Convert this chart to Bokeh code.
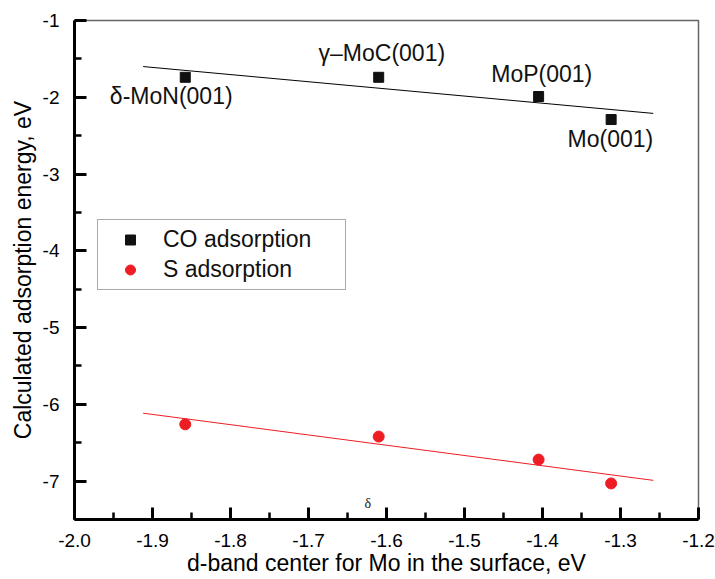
from bokeh.plotting import figure
from bokeh.models import (ColumnDataSource, FixedTicker, PrintfTickFormatter,
                          Range1d, Legend, LegendItem)
from bokeh.core.properties import value
from bokeh.embed import file_html
from bokeh.resources import INLINE

# ---- data ----
d_band = [-1.858, -1.610, -1.405, -1.312]
co_energy = [-1.74, -1.74, -1.99, -2.29]
s_energy = [-6.26, -6.42, -6.72, -7.03]

surface_labels = ["δ-MoN(001)", "γ–MoC(001)", "MoP(001)", "Mo(001)"]
label_x = [-1.876, -1.606, -1.401, -1.313]
label_y = [-1.977, -1.417, -1.703, -2.55]

fit_x = [-1.912, -1.258]
co_fit_y = [-1.60, -2.21]
s_fit_y = [-6.115, -6.99]

stray_text = ["δ"]
stray_x = [-1.624]
stray_y = [-7.29]

x_ticks = [-2.0, -1.9, -1.8, -1.7, -1.6, -1.5, -1.4, -1.3, -1.2]
x_minor = [-1.95, -1.85, -1.75, -1.65, -1.55, -1.45, -1.35, -1.25]
y_ticks = [-1, -2, -3, -4, -5, -6, -7]
y_minor = [-1.5, -2.5, -3.5, -4.5, -5.5, -6.5, -7.5]

FONT = "Liberation Sans"
RED = "#ee1d23"

p = figure(width=715, height=579, output_backend="svg", toolbar_location=None,
           x_range=Range1d(-2.0, -1.2), y_range=Range1d(-7.5, -1.0),
           min_border_left=74, min_border_right=17, min_border_top=20,
           min_border_bottom=60)
p.xgrid.visible = False
p.ygrid.visible = False
p.outline_line_color = "#666666"
p.outline_line_width = 1.5
p.background_fill_color = "white"
p.border_fill_color = "white"

for ax in (p.xaxis[0], p.yaxis[0]):
    ax.axis_line_width = 3
    ax.axis_line_color = "black"
    ax.major_tick_line_width = 3
    ax.minor_tick_line_width = 2.5
    ax.major_tick_in = 12
    ax.major_tick_out = 0
    ax.minor_tick_in = 7
    ax.minor_tick_out = 0
    ax.major_label_text_font = FONT
    ax.major_label_text_font_size = "19px"
    ax.major_label_text_color = "black"
    ax.axis_label_text_font = FONT
    ax.axis_label_text_font_size = "23px"
    ax.axis_label_text_font_style = "normal"
    ax.axis_label_text_color = "black"

p.xaxis.ticker = FixedTicker(ticks=x_ticks, minor_ticks=x_minor)
p.yaxis.ticker = FixedTicker(ticks=y_ticks, minor_ticks=y_minor)
p.xaxis.formatter = PrintfTickFormatter(format="%.1f")
p.yaxis.formatter = PrintfTickFormatter(format="%d")
p.xaxis.axis_label = "d-band center for Mo in the surface, eV"
p.yaxis.axis_label = "Calculated adsorption energy, eV"
p.xaxis.major_label_standoff = 14
p.xaxis.axis_label_standoff = 0
p.yaxis.major_label_standoff = 15
p.yaxis.axis_label_standoff = 4

# fit lines
p.line(fit_x, co_fit_y, line_color="black", line_width=1)
p.line(fit_x, s_fit_y, line_color=RED, line_width=1)

src = ColumnDataSource(dict(x=d_band, co=co_energy, s=s_energy))
r_co = p.scatter("x", "co", source=src, marker="square", size=10,
                 fill_color="#111111", line_color="#111111")
r_s = p.scatter("x", "s", source=src, marker="circle", size=11,
                fill_color=RED, line_color=RED)

lab_src = ColumnDataSource(dict(x=label_x, y=label_y, t=surface_labels))
p.text("x", "y", text="t", source=lab_src, text_font=value(FONT),
       text_font_size="23px", text_align="center", text_baseline="middle",
       text_color="#111111")

p.text(stray_x, stray_y, text=stray_text, text_font=value("Liberation Serif"),
       text_font_size="14px", text_align="center", text_baseline="middle",
       text_color="#222222")

legend = Legend(items=[LegendItem(label="CO adsorption", renderers=[r_co]),
                       LegendItem(label="S adsorption", renderers=[r_s])],
                location=(23, 229))
legend.label_text_font = FONT
legend.label_text_font_size = "23px"
legend.label_text_color = "#111111"
legend.label_height = 25
legend.label_width = 176
legend.glyph_height = 25
legend.glyph_width = 52
legend.label_standoff = 7
legend.spacing = 3
legend.padding = 6
legend.margin = 0
legend.border_line_color = "#555555"
legend.border_line_width = 1.2
legend.background_fill_alpha = 1.0
p.add_layout(legend, "center")

open("out.html", "w").write(file_html(p, INLINE))
